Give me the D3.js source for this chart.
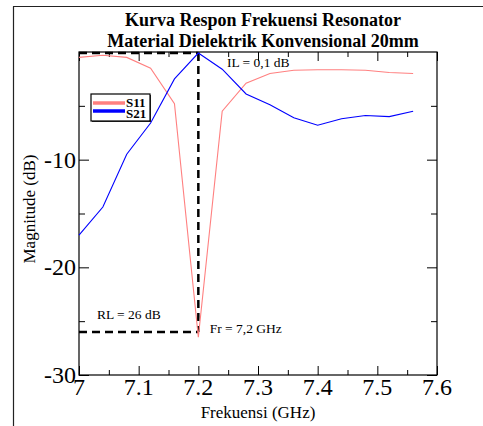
<!DOCTYPE html>
<html>
<head>
<meta charset="utf-8">
<script src="https://cdn.jsdelivr.net/npm/d3@7"></script>
<style>
  body { margin: 0; background: #fff; }
  text { font-family: "Liberation Serif", "Times New Roman", serif; }
</style>
</head>
<body>
<div id="chart"></div>
<script>
// frequency points (GHz) and magnitudes (dB)
var freq = [7.00, 7.04, 7.08, 7.12, 7.16, 7.20, 7.24, 7.28, 7.32, 7.36, 7.40, 7.44, 7.48, 7.52, 7.56];
var s11 = [-0.5, -0.3, -0.5, -1.5, -4.8, -26.5, -5.5, -2.9, -2.0, -1.7, -1.65, -1.65, -1.7, -1.9, -2.0];
var s21 = [-17.0, -14.4, -9.5, -6.6, -2.5, -0.1, -1.6, -3.9, -4.9, -6.1, -6.8, -6.2, -5.9, -6.0, -5.5];

var xTicks = [7, 7.1, 7.2, 7.3, 7.4, 7.5, 7.6];
var xMinor = [7.05, 7.15, 7.25, 7.35, 7.45, 7.55];
var yTicks = [-30, -20, -10];
var yMinor = [-25, -15, -5];

var seriesNames = ["S11", "S21"];
var seriesColors = ["#ff8080", "#0000ff"];

// markers: resonance freq, insertion loss, return loss
var fr = 7.2, il = -0.1, rl = -26;

var W = 483, H = 426;
var margin = { top: 52, right: 46, bottom: 51, left: 79 };
var w = W - margin.left - margin.right;
var h = H - margin.top - margin.bottom;

var svg = d3.select("#chart").append("svg")
  .attr("width", W)
  .attr("height", H);

// page frame (screenshot border)
svg.append("line").attr("x1", 13.5).attr("x2", 13.5).attr("y1", 6.5).attr("y2", H)
  .attr("stroke", "#222").attr("stroke-width", 1.2);
svg.append("line").attr("x1", 13).attr("x2", W).attr("y1", 6.5).attr("y2", 6.5)
  .attr("stroke", "#222").attr("stroke-width", 1.2);

var x = d3.scaleLinear().domain([7, 7.6]).range([0, w]);
var y = d3.scaleLinear().domain([-30, 0]).range([h, 0]);

var g = svg.append("g")
  .attr("transform", "translate(" + margin.left + "," + margin.top + ")");

// ticks (all pointing inward)
function tickSet(axis, vals, size) {
  return axis.tickValues(vals).tickSize(-size).tickFormat("");
}
g.append("g").attr("transform", "translate(0," + h + ")").call(tickSet(d3.axisBottom(x), xTicks, 9));
g.append("g").attr("transform", "translate(0," + h + ")").call(tickSet(d3.axisBottom(x), xMinor, 5));
g.append("g").call(tickSet(d3.axisTop(x), xTicks, 9));
g.append("g").call(tickSet(d3.axisTop(x), xMinor, 5));
g.append("g").call(tickSet(d3.axisLeft(y), yTicks, 10));
g.append("g").call(tickSet(d3.axisLeft(y), yMinor, 6));
g.append("g").attr("transform", "translate(" + w + ",0)").call(tickSet(d3.axisRight(y), yTicks, 10));
g.append("g").attr("transform", "translate(" + w + ",0)").call(tickSet(d3.axisRight(y), yMinor, 6));
g.selectAll(".domain").remove();
g.selectAll(".tick line").attr("stroke", "#000").attr("stroke-width", 1);

g.append("rect")
  .attr("width", w).attr("height", h)
  .attr("fill", "none").attr("stroke", "#000").attr("stroke-width", 1.2);

// tick labels
g.selectAll(".xlab").data(xTicks).enter().append("text")
  .attr("x", d => x(d))
  .attr("y", h + 20)
  .attr("text-anchor", "middle")
  .attr("font-size", 24)
  .text(d => d);

g.selectAll(".ylab").data(yTicks).enter().append("text")
  .attr("x", -3)
  .attr("y", d => y(d) + 8)
  .attr("text-anchor", "end")
  .attr("font-size", 24)
  .text(d => d);

// dashed marker lines
var dash = g.append("g")
  .attr("fill", "none").attr("stroke", "#000")
  .attr("stroke-width", 2.5).attr("stroke-dasharray", "8,5");
dash.append("line").attr("x1", 0).attr("x2", x(fr)).attr("y1", y(il)).attr("y2", y(il));
dash.append("line").attr("x1", x(fr)).attr("x2", x(fr)).attr("y1", y(il)).attr("y2", y(rl));
dash.append("line").attr("x1", 0).attr("x2", x(fr)).attr("y1", y(rl)).attr("y2", y(rl));

// curves
var line = d3.line()
  .x((d, i) => x(freq[i]))
  .y(d => y(d));

[s11, s21].forEach(function(s, i) {
  g.append("path")
    .datum(s)
    .attr("d", line)
    .attr("fill", "none")
    .attr("stroke", seriesColors[i])
    .attr("stroke-width", 1.1);
});

// annotations
g.append("text").attr("x", x(7.248)).attr("y", y(-1.4)).attr("font-size", 13.5).text("IL = 0,1 dB");
g.append("text").attr("x", x(7.03)).attr("y", y(-24.8)).attr("font-size", 13.5).text("RL = 26 dB");
g.append("text").attr("x", x(7.219)).attr("y", y(-26.1)).attr("font-size", 13.5).text("Fr = 7,2 GHz");

// legend
var lg = g.append("g").attr("transform", "translate(12,42)");
lg.append("rect").attr("x", 1).attr("y", 1).attr("width", 59).attr("height", 27).attr("fill", "#333");
lg.append("rect").attr("width", 59).attr("height", 27)
  .attr("fill", "#fff").attr("stroke", "#000").attr("stroke-width", 1.2);
seriesNames.forEach(function(name, i) {
  lg.append("line")
    .attr("x1", 2).attr("x2", 34)
    .attr("y1", 9 + i * 8).attr("y2", 9 + i * 8)
    .attr("stroke", seriesColors[i]).attr("stroke-width", 3.5);
  lg.append("text")
    .attr("x", 35).attr("y", 12.5 + i * 11)
    .attr("font-size", 13).attr("font-weight", "bold")
    .text(name);
});

// titles
svg.append("text").attr("x", 263).attr("y", 26)
  .attr("text-anchor", "middle").attr("font-size", 18).attr("font-weight", "bold")
  .text("Kurva Respon Frekuensi Resonator");
svg.append("text").attr("x", 263).attr("y", 47)
  .attr("text-anchor", "middle").attr("font-size", 18).attr("font-weight", "bold")
  .text("Material Dielektrik Konvensional 20mm");

svg.append("text").attr("x", 258).attr("y", 418)
  .attr("text-anchor", "middle").attr("font-size", 17)
  .text("Frekuensi (GHz)");
svg.append("text")
  .attr("transform", "translate(35,209) rotate(-90)")
  .attr("text-anchor", "middle").attr("font-size", 17)
  .text("Magnitude (dB)");
</script>
</body>
</html>
